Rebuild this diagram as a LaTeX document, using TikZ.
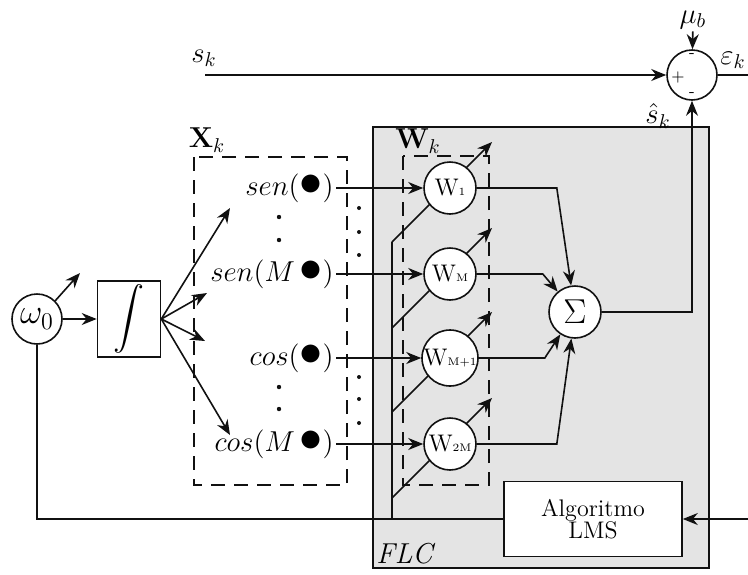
\documentclass[tikz,border=0pt]{standalone}
\usepackage{xcolor}
\definecolor{flcGris}{HTML}{E4E4E4}
\definecolor{traitNoir}{HTML}{111111}
\usepackage{tikz}
\usetikzlibrary{arrows.meta, positioning, calc}
\newcommand{\grosPoint}{\scalebox{1.6}{$\bullet$}}
\newcommand{\nomPoids}[1]{{\fontsize{12pt}{12pt}\selectfont W}%
  {\fontsize{5.5pt}{5.5pt}\selectfont #1}}
\tikzset{
  %% ── Boxes ────────────────────────────────────────────────────────────
  %% Blocks and summing points are white on the grey filter, so they
  %% hide the adaptation arrows that run through them.
  bloc/.style      = {draw=traitNoir, line width=0.8pt, fill=white,
                      align=center, inner sep=2pt},
  cercle/.style    = {bloc, circle, minimum size=25pt, inner sep=0pt},
  poids/.style     = {cercle, minimum size=26pt},
  cadre/.style     = {draw=traitNoir, line width=0.75pt,
                      dash pattern=on 7pt off 4.5pt},
  %%
  %% ── Arrows ───────────────────────────────────────────────────────────
  fleche/.style    = {-{Stealth[length=7.5pt, width=6pt]}, draw=traitNoir,
                      line width=0.8pt},
  trait/.style     = {draw=traitNoir, line width=0.8pt},
  %%
  %% ── Text ─────────────────────────────────────────────────────────────
  etiquette/.style = {font=\Large, inner sep=1pt},
  signe/.style     = {font=\footnotesize, inner sep=0pt},
}

\begin{document}
\begin{tikzpicture}[x=0.5pt, y=-0.5pt]
\useasboundingbox (0,0) rectangle (748,574);

%% filter area and the two vectors
\draw[trait, fill=flcGris] (373,127) rectangle (709,568);
\draw[cadre] (194,157) rectangle (347,485);
\draw[cadre] (403,156) rectangle (489,485);
\node[etiquette] (lblX) at (207,140) {$\mathbf{X}_k$};
\node[etiquette] (lblW) at (418,141) {$\mathbf{W}_k$};
\node[etiquette, font=\Large\itshape, anchor=south west] (lblFLC) at (374,566) {FLC};

%% adaptation bus, drawn before the weights so that they cover it
\coordinate (busBas) at (392,519);
\foreach \nom/\c in {1/188, M/274, M1/358, 2M/444} {
  \coordinate (pied\nom) at (392,\c+54);
  \coordinate (bout\nom) at (492,\c-46);
  \draw[fleche] (pied\nom) -- (bout\nom);
}
\draw[trait] (busBas) -- (pied1);

%% oscillator
\node[cercle, font=\LARGE] (omega) at (37,319) {$\omega_0$};
\node[bloc, font=\Large, minimum width=31.5pt, minimum height=38pt, inner sep=0pt]
     (integ) at (129,319) {\scalebox{1.55}{$\displaystyle\int$}};
\coordinate (omegaBout) at (80,273);
\draw[fleche] (omega.north east) -- (omegaBout);
\draw[fleche] (omega) -- (integ);

\coordinate (fanA) at (230,208);
\coordinate (fanB) at (207,293);
\coordinate (fanC) at (205,341);
\coordinate (fanD) at (230,435);
\foreach \bout in {fanA, fanB, fanC, fanD}
  \draw[fleche] (integ.east) -- (\bout);

%% regressors
\node[etiquette, anchor=east] (txtSen1) at (336,188) {$sen(\grosPoint)$};
\node[etiquette, anchor=east] (txtSenM) at (336,274) {$sen(M\,\grosPoint)$};
\node[etiquette, anchor=east] (txtCos1) at (336,358) {$cos(\grosPoint)$};
\node[etiquette, anchor=east] (txtCosM) at (336,444) {$cos(M\,\grosPoint)$};
\foreach \y in {217,240,387,409}
  \fill[traitNoir] (279,\y) circle (1.1pt);
\foreach \y in {208,232,255,377,399,423}
  \fill[traitNoir] (359,\y) circle (1pt);

%% weights
\node[poids] (w1)  at (450,188) {\nomPoids{1}};
\node[poids] (wM)  at (450,274) {\nomPoids{M}};
\node[poids] (wM1) at (450,358) {\nomPoids{M+1}};
\node[poids] (w2M) at (450,444) {\nomPoids{2M}};

\draw[fleche] (txtSen1) -- (w1);
\draw[fleche] (txtSenM) -- (wM);
\draw[fleche] (txtCos1) -- (wM1);
\draw[fleche] (txtCosM) -- (w2M);

\node[cercle, minimum size=26pt, font=\LARGE] (sigma) at (575,312) {$\Sigma$};
\draw[fleche] (w1.east)  -- ++(80,0) -- (sigma);
\draw[fleche] (wM.east)  -- ++(66,0) -- (sigma);
\draw[fleche] (wM1.east) -- ++(66,0) -- (sigma);
\draw[fleche] (w2M.east) -- ++(80,0) -- (sigma);

%% error
\node[cercle] (somme) at (692,75) {};
\node[signe] (plus)   at (678,77) {+};
\node[signe] (moinsH) at (692,56) {-};
\node[signe] (moinsB) at (692,95) {-};

\coordinate (entreeS) at (205,75);
\coordinate (sortieErr) at (748,75);
\node[etiquette] (lblS) at (204,58) {$s_k$};
\node[etiquette] (mub) at (693,20) {$\mu_b$};
\node[etiquette, anchor=east] (lblEps) at (748,60) {$\varepsilon_k$};
\node[etiquette] (lblShat) at (658,116) {$\hat{s}_k$};

\draw[fleche] (entreeS) -- (somme);
\draw[fleche] (mub) -- (somme);
\draw[trait] (somme) -- (sortieErr);
\draw[fleche] (sigma.east) -| (somme.south);

%% update
\node[bloc, font=\large, minimum width=89pt, minimum height=37.5pt]
     (lms) at (593,519) {Algoritmo\\[-3pt]LMS};
\coordinate (entreeErr) at (748,519);
\draw[fleche] (entreeErr) -- (lms.east);
\draw[trait] (omega.south) |- (lms.west);

\end{tikzpicture}
\end{document}
